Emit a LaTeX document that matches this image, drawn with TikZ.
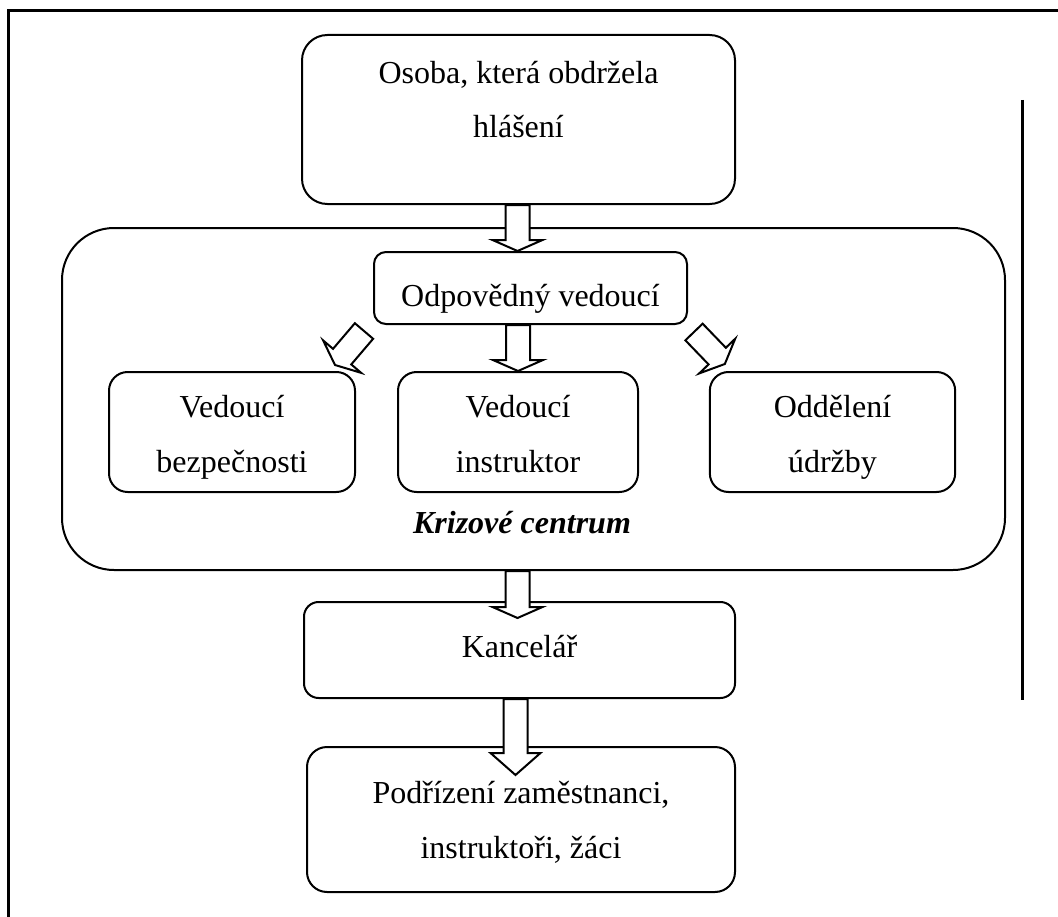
\documentclass[tikz,border=0pt]{standalone}
\usepackage{fontspec}
\setmainfont{Liberation Serif}
\usetikzlibrary{calc,positioning}

\begin{document}
\begin{tikzpicture}[
    x=0.75pt, y=-0.75pt,
    box/.style={rectangle, draw, line width=1.5pt, inner sep=0pt,
                align=center, font=\fontsize{24}{41}\selectfont},
    pair/.style={box, rounded corners=14pt, minimum height=90pt,
                 text height=60pt, text depth=0pt},
    flow/.style={draw, fill=white, line width=1.5pt, line join=miter,
                 to path={
                   ($(\tikztostart)!9pt!90:(\tikztotarget)$)
                   -- ($(\tikztotarget)!#1!(\tikztostart)!9pt!-90:(\tikztostart)$)
                   -- ($(\tikztotarget)!#1!(\tikztostart)!18.75pt!-90:(\tikztostart)$)
                   -- (\tikztotarget)
                   -- ($(\tikztotarget)!#1!(\tikztostart)!18.75pt!90:(\tikztostart)$)
                   -- ($(\tikztotarget)!#1!(\tikztostart)!9pt!90:(\tikztostart)$)
                   -- ($(\tikztostart)!9pt!-90:(\tikztotarget)$) -- cycle}},
    flow/.default=8.25pt,
]
    \useasboundingbox (0,0) rectangle (1058,917);
    \draw[line width=2.25pt] (8,917) -- (8,11) -- (1058,11);
    \draw[line width=2.25pt] (1022,100) -- (1022,700);

    \node[box, rounded corners=19pt, minimum width=324.75pt, minimum height=126.75pt,
          text depth=30pt] (report) at (518.5,119.5)
         {Osoba, která obdržela\\hlášení};
    \node[box, rounded corners=39pt, minimum width=707.25pt, minimum height=256.5pt]
         (centre) at (533.5,399) {};
    \node[box, rounded corners=9pt, minimum width=234.75pt, minimum height=54pt,
          text height=27pt, text depth=0pt] (lead) at (530.5,288)
         {Odpovědný vedoucí};
    \node[pair, minimum width=184.5pt] (safety) at (232,432) {Vedoucí\\bezpečnosti};
    \node[pair, minimum width=180pt] (instr) at (518,432) {Vedoucí\\instruktor};
    \node[pair, minimum width=184pt] (maint) at (832.5,432) {Oddělení\\údržby};
    \node[font=\fontsize{24}{41}\selectfont\bfseries\itshape] (crisis) at (522,523)
         {Krizové centrum};
    \node[box, rounded corners=11pt, minimum width=323.25pt, minimum height=72pt,
          text height=16pt, text depth=5.5pt] (office) at (519.5,650) {Kancelář};
    \node[box, rounded corners=15pt, minimum width=321pt, minimum height=108.75pt,
          text height=58pt, text depth=0pt] (staff) at (521,819.5)
         {Podřízení zaměstnanci,\\instruktoři, žáci};

    \draw[flow] (report.south -| 517.5,0) to (517.5,251);
    \draw[flow] (instr.north |- lead.south) to (instr.north);
    \draw[flow] ($(lead.south west)+(-9,6)$) to ($(safety.north east)+(-21,-6)$);
    \draw[flow] ($(lead.south east)+(6,7)$) to ($(maint.north west)+(16,-7)$);
    \draw[flow] (centre.south -| 517.5,0) to (517.5,618);
    \draw[flow=16.5pt] (office.south -| 515.5,0) to (515.5,775);
\end{tikzpicture}
\end{document}
